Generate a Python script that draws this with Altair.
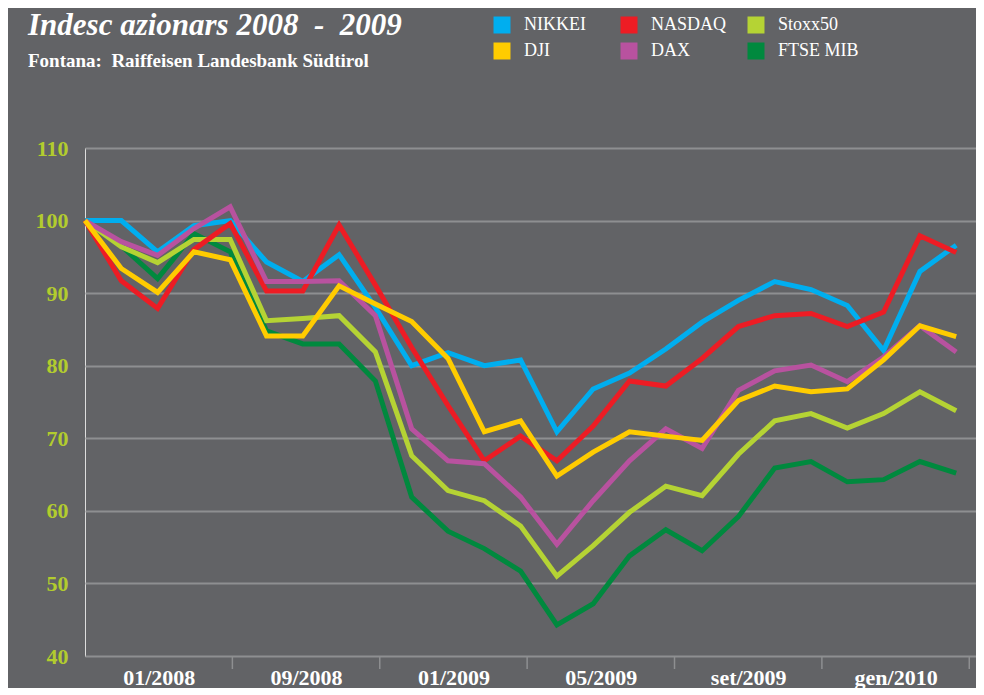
import altair as alt
import pandas as pd

# ---------------- data ----------------
x_index = list(range(25))

series_names = ["NIKKEI", "NASDAQ", "Stoxx50", "DJI", "DAX", "FTSE MIB"]
series_colors = ["#00aeef", "#ed1c24", "#b5d334", "#ffcc00", "#b8529f", "#00893e"]

nikkei = [100, 100, 95.7, 99.3, 100.0, 94.3, 91.6, 95.3, 88.0, 80.0, 81.8, 80.0, 80.8,
          70.9, 76.8, 79.0, 82.3, 86.0, 89.0, 91.6, 90.5, 88.3, 82.1, 93.0, 96.6]
nasdaq = [100, 91.7, 87.9, 96.0, 99.6, 90.3, 90.3, 99.4, 91.1, 82.5, 74.5, 66.9, 70.3,
          66.9, 71.7, 77.9, 77.2, 81.0, 85.4, 86.9, 87.2, 85.4, 87.4, 97.9, 95.6]
stoxx50 = [100, 96.4, 94.2, 97.4, 97.4, 86.2, 86.5, 86.9, 81.9, 67.6, 62.8, 61.4, 57.9,
           51.0, 55.2, 59.8, 63.4, 62.1, 67.8, 72.4, 73.4, 71.4, 73.4, 76.4, 73.8]
dji = [100, 93.4, 90.1, 95.7, 94.6, 84.1, 84.1, 91.0, 88.5, 86.1, 81.0, 70.9, 72.4,
       64.8, 68.1, 70.9, 70.3, 69.7, 75.2, 77.2, 76.4, 76.8, 80.8, 85.5, 84.0]
dax = [100, 97.1, 95.2, 98.9, 101.9, 91.6, 91.6, 91.7, 86.9, 71.3, 66.9, 66.5, 61.9,
       55.4, 61.4, 66.9, 71.3, 68.6, 76.6, 79.3, 80.1, 77.8, 81.2, 85.5, 81.9]
ftse_mib = [100, 96.5, 92.0, 98.2, 95.7, 84.8, 83.0, 83.0, 77.9, 61.9, 57.2, 54.8, 51.7,
            44.3, 47.2, 53.8, 57.4, 54.5, 59.2, 65.9, 66.8, 64.0, 64.3, 66.8, 65.2]

draw_order = ["NIKKEI", "FTSE MIB", "Stoxx50", "NASDAQ", "DAX", "DJI"]

x_labels = ["01/2008", "09/2008", "01/2009", "05/2009", "set/2009", "gen/2010"]
x_label_pos = [2.03, 6.09, 10.15, 14.21, 18.27, 22.33]
x_tick_pos = [4.06, 8.12, 12.18, 16.24, 20.30, 24.36]
y_ticks = [40, 50, 60, 70, 80, 90, 100, 110]

title_text = "Indesc azionars 2008\u00a0\u00a0-\u00a0\u00a02009"
subtitle_text = "Fontana:\u00a0\u00a0Raiffeisen Landesbank Südtirol"

# ---------------- tables ----------------
values = {"NIKKEI": nikkei, "NASDAQ": nasdaq, "Stoxx50": stoxx50,
          "DJI": dji, "DAX": dax, "FTSE MIB": ftse_mib}
rows = []
for name in draw_order:
    for xi, v in zip(x_index, values[name]):
        rows.append({"x": xi, "value": v, "index": name})
df = pd.DataFrame(rows)
df_ticks = pd.DataFrame({"x": x_tick_pos})

# ---------------- layout ----------------
W, H = 891, 508
BG = "#626366"
GRID = "#8e8f91"
SERIF = "Liberation Serif"

label_array = "[" + ",".join("'%s'" % s for s in x_labels) + "]"
label_expr = f"{label_array}[round((datum.value - {x_label_pos[0]}) / {x_label_pos[1] - x_label_pos[0]:.2f})]"

x_enc = alt.X(
    "x:Q",
    scale=alt.Scale(domain=[0, W / 36.3], nice=False, zero=False),
    axis=alt.Axis(values=x_label_pos, labelExpr=label_expr, ticks=False, domain=False,
                  grid=False, title=None, labelFont=SERIF, labelFontSize=22,
                  labelFontWeight="bold", labelColor="#ffffff", labelPadding=11,
                  labelAlign="center"),
)

lines = alt.Chart(df).mark_line(strokeWidth=5, strokeJoin="miter", strokeCap="butt").encode(
    x=x_enc,
    y=alt.Y(
        "value:Q",
        scale=alt.Scale(domain=[40, 110], nice=False, zero=False),
        axis=alt.Axis(values=y_ticks, title=None, domain=False, ticks=False,
                      grid=True, gridColor=GRID, gridWidth=1.8,
                      labelFont=SERIF, labelFontSize=22, labelFontWeight="bold",
                      labelColor="#b2cc2e", labelPadding=17),
    ),
    color=alt.Color(
        "index:N",
        scale=alt.Scale(domain=series_names, range=series_colors),
        legend=alt.Legend(
            title=None, orient="none", legendX=408, legendY=-132,
            columns=3, direction="horizontal", gridAlign="all",
            columnPadding=15, rowPadding=8, clipHeight=18,
            symbolType="square", symbolSize=72, symbolStrokeWidth=8.5,
            labelFont=SERIF, labelFontSize=18, labelColor="#ffffff", labelOffset=13,
        ),
    ),
    detail="index:N",
)

ticks = alt.Chart(df_ticks).mark_rule(color=GRID, strokeWidth=1.5).encode(
    x=x_enc,
    y=alt.value(H),
    y2=alt.value(H + 13),
)

chart = alt.layer(ticks, lines).properties(
    width=W,
    height=H,
    background=BG,
    padding={"left": 20, "top": 2, "right": 0, "bottom": 0},
    title=alt.TitleParams(
        text=title_text,
        subtitle=subtitle_text,
        anchor="start", frame="group", dx=-57, offset=-56,
        font=SERIF, fontSize=31, fontStyle="italic", fontWeight="bold", color="#ffffff",
        subtitleFont=SERIF, subtitleFontSize=19, subtitleFontWeight="bold",
        subtitleColor="#ffffff", subtitlePadding=10,
    ),
).configure_view(stroke=None).configure(background=BG)

chart.save("out.html", embed_options={"renderer": "svg", "actions": False})
